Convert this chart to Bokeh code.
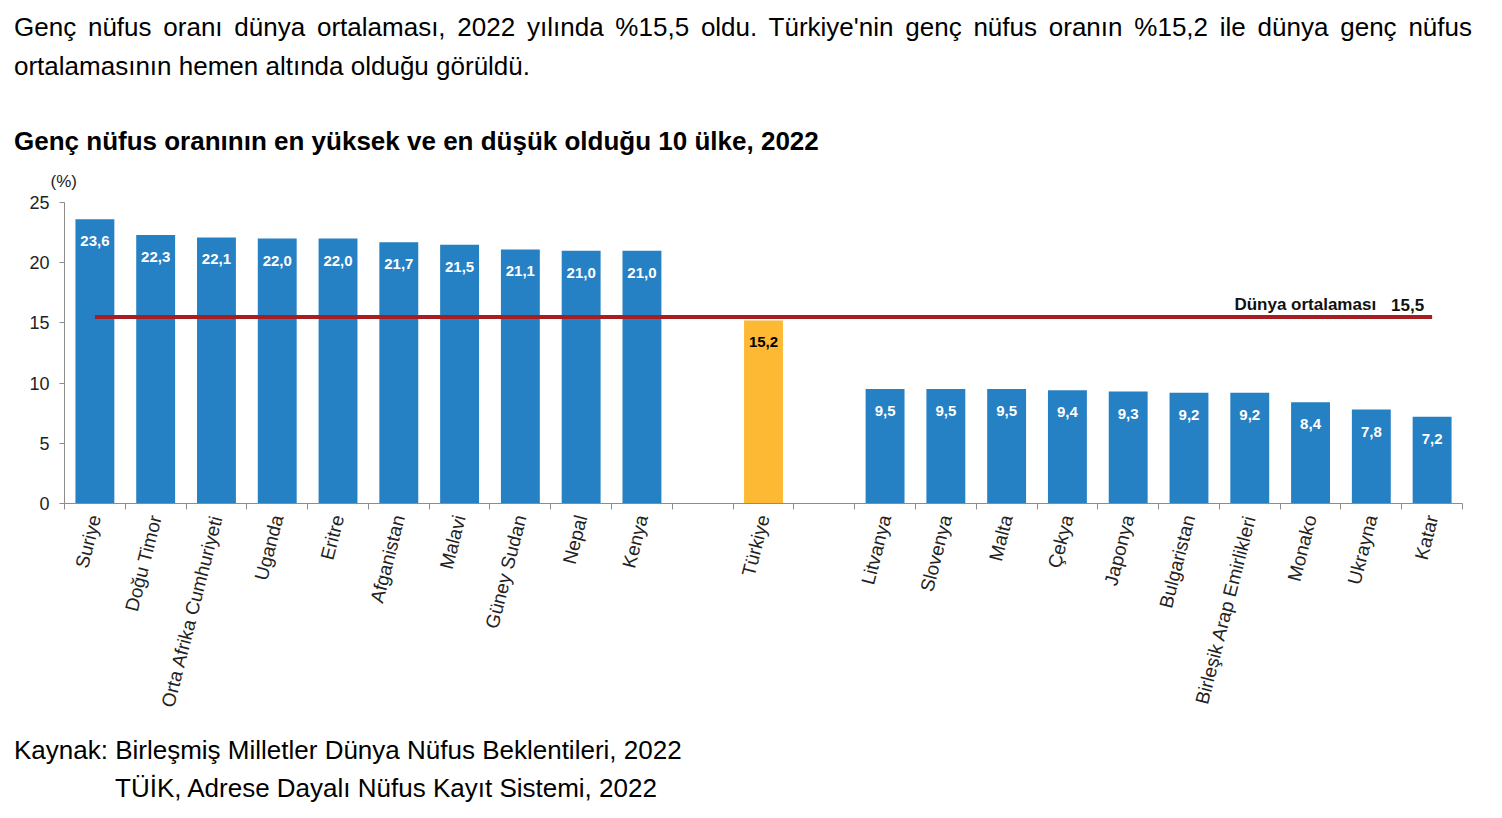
from bokeh.plotting import figure
from bokeh.models import ColumnDataSource, Range1d, FixedTicker, Div
from bokeh.layouts import column
from bokeh.embed import file_html
from bokeh.resources import INLINE
from bokeh.core.properties import value

# ---- data ----
high_countries = ["Suriye", "Doğu Timor", "Orta Afrika Cumhuriyeti", "Uganda", "Eritre",
                  "Afganistan", "Malavi", "Güney Sudan", "Nepal", "Kenya"]
high_values = [23.6, 22.3, 22.1, 22.0, 22.0, 21.7, 21.5, 21.1, 21.0, 21.0]
turkey_country = ["Türkiye"]
turkey_value = [15.2]
low_countries = ["Litvanya", "Slovenya", "Malta", "Çekya", "Japonya", "Bulgaristan",
                 "Birleşik Arap Emirlikleri", "Monako", "Ukrayna", "Katar"]
low_values = [9.5, 9.5, 9.5, 9.4, 9.3, 9.2, 9.2, 8.4, 7.8, 7.2]
world_average = 15.5
world_average_label = "Dünya ortalaması"
y_ticks = [0, 5, 10, 15, 20, 25]
y_unit = "(%)"

FONT = "Liberation Sans"
BLUE = "#2680C4"
YELLOW = "#FDB933"
RED = "#A61E22"
AXIS = "#8C8C8C"

def fmt(v):
    return f"{v:.1f}".replace(".", ",")

# slots: groups separated by one empty slot
groups = [(high_countries, high_values), (turkey_country, turkey_value), (low_countries, low_values)]
xs, names, vals = [], [], []
pos = 0
for gi, (cs, vs) in enumerate(groups):
    if gi > 0:
        pos += 1
    for c, v in zip(cs, vs):
        xs.append(pos)
        names.append(c)
        vals.append(v)
        pos += 1
n_slots = pos

is_tr = [n in turkey_country for n in names]
src = ColumnDataSource(dict(
    x=xs, v=vals, name=names,
    label=[fmt(v) for v in vals],
    color=[YELLOW if t else BLUE for t in is_tr],
    tcolor=["#000000" if t else "#FFFFFF" for t in is_tr],
))

p = figure(width=1502, height=573, x_range=Range1d(-0.5, n_slots - 0.5), y_range=Range1d(0, 25),
           output_backend="svg", toolbar_location=None,
           min_border_left=64, min_border_right=40, min_border_top=45, min_border_bottom=227)
p.outline_line_color = None
p.xgrid.grid_line_color = None
p.ygrid.grid_line_color = None
p.background_fill_color = "white"
p.border_fill_color = None

# (%) as a left-aligned title just above the frame
p.title.text = y_unit
p.title.align = "left"
p.title.offset = -14
p.title.standoff = 24
p.title.text_font = FONT
p.title.text_font_size = "17px"
p.title.text_font_style = "normal"
p.title.text_color = "#222222"

p.vbar(x="x", top="v", width=0.64, bottom=0, source=src, fill_color="color", line_color=None)

p.text(x="x", y="v", text="label", source=src, text_color="tcolor", text_align="center",
       text_baseline="middle", y_offset=22, text_font=value(FONT), text_font_style="bold",
       text_font_size="15px")

# world average line
p.line(x=[xs[0], xs[-1]], y=[world_average, world_average], line_color=RED, line_width=4)
p.text(x=[xs[-1]], y=[world_average], text=[fmt(world_average)], text_align="right",
       text_baseline="alphabetic", x_offset=-8, y_offset=-12, text_font=value(FONT),
       text_font_style="bold", text_font_size="17px", text_color="#111111")
p.text(x=[xs[-1]], y=[world_average], text=[world_average_label], text_align="right",
       text_baseline="alphabetic", x_offset=-56, y_offset=-12, text_font=value(FONT),
       text_font_style="bold", text_font_size="17px", text_color="#111111")

# axes
yax = p.yaxis[0]
yax.ticker = FixedTicker(ticks=y_ticks)
yax.axis_line_color = AXIS
yax.major_tick_line_color = AXIS
yax.major_tick_out = 5
yax.major_tick_in = 0
yax.minor_tick_line_color = None
yax.major_label_standoff = 10
yax.major_label_text_font = FONT
yax.major_label_text_font_size = "18px"
yax.major_label_text_color = "#222222"

xax = p.xaxis[0]
xax.ticker = FixedTicker(ticks=xs, minor_ticks=[i - 0.5 for i in range(n_slots + 1)])
xax.axis_line_color = AXIS
xax.major_tick_line_color = None
xax.major_tick_out = 6
xax.major_tick_in = 0
xax.minor_tick_line_color = AXIS
xax.minor_tick_out = 6
xax.minor_tick_in = 0
xax.major_label_overrides = {x: n for x, n in zip(xs, names)}
xax.major_label_orientation = 1.32
xax.major_label_standoff = 6
xax.major_label_text_font = FONT
xax.major_label_text_font_size = "19px"
xax.major_label_text_color = "#222222"

top_html = (
    f"<div style=\"font-family:'{FONT}',Arial,sans-serif;font-size:26px;line-height:39px;color:#000;"
    "padding:8px 30px 0 14px;width:1458px;white-space:normal;\">"
    "<div style=\"display:block;width:1458px;white-space:normal;text-align:justify;"
    "text-align-last:justify;-webkit-text-align-last:justify;\">"
    "Genç nüfus oranı dünya ortalaması, 2022 yılında %15,5 oldu. Türkiye'nin genç nüfus oranın %15,2 ile dünya genç nüfus"
    "</div>"
    "<div>ortalamasının hemen altında olduğu görüldü.</div>"
    "<div style=\"font-weight:bold;margin-top:40px;line-height:31px;\">"
    "Genç nüfus oranının en yüksek ve en düşük olduğu 10 ülke, 2022</div>"
    "</div>"
)
top_div = Div(text=top_html, width=1502, height=157, margin=0)

bottom_html = (
    f"<div style=\"font-family:'{FONT}',Arial,sans-serif;font-size:26px;line-height:38px;color:#000;"
    "padding:1px 0 0 14px;\">"
    "<div>Kaynak: Birleşmiş Milletler Dünya Nüfus Beklentileri, 2022</div>"
    "<div style=\"padding-left:101px;\">TÜİK, Adrese Dayalı Nüfus Kayıt Sistemi, 2022</div>"
    "</div>"
)
bottom_div = Div(text=bottom_html, width=1502, height=88, margin=0)

layout = column(top_div, p, bottom_div, spacing=0)

open("out.html", "w").write(file_html(layout, INLINE))
